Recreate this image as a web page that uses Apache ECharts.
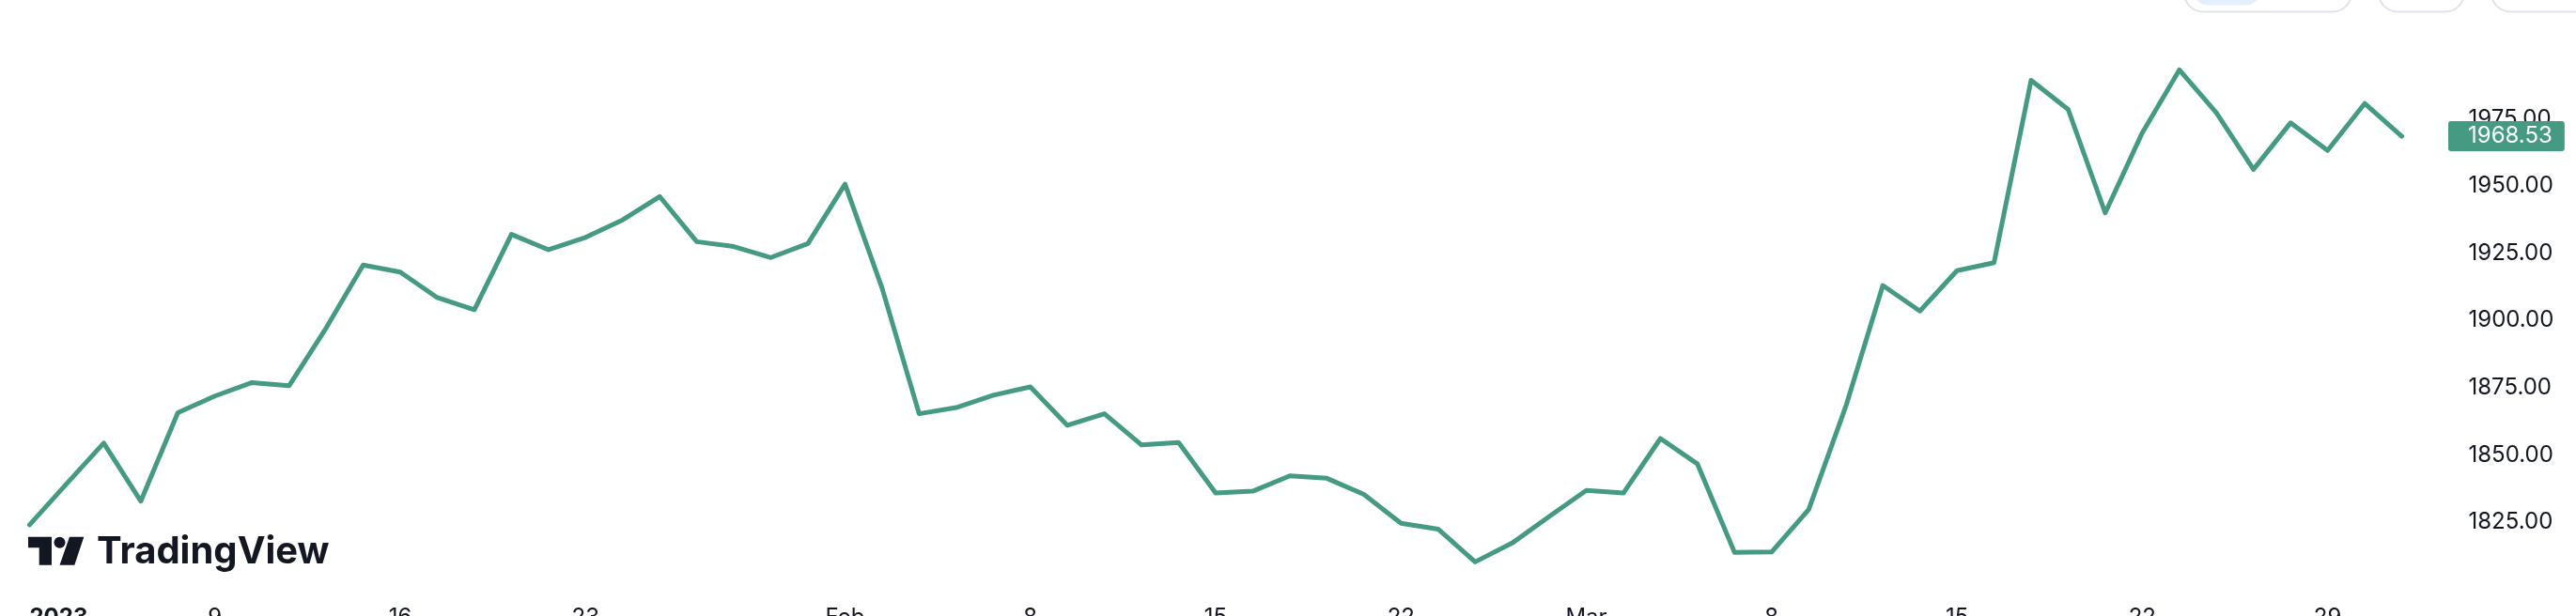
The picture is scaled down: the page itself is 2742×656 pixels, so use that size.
<!DOCTYPE html>
<html>
<head>
<meta charset="utf-8">
<script src="https://cdn.jsdelivr.net/npm/echarts@6/dist/echarts.min.js"></script>
<style>
html,body{margin:0;padding:0;background:#ffffff;}
#chart{width:2742px;height:656px;}
</style>
</head>
<body>
<div id="chart"></div>
<script>
// ---- Data (XAUUSD daily close, Dec 30 2022 – Mar 31 2023) ----
const dates = [
  '2022-12-30',
  '2023-01-03','2023-01-04','2023-01-05','2023-01-06','2023-01-09','2023-01-10','2023-01-11','2023-01-12','2023-01-13',
  '2023-01-16','2023-01-17','2023-01-18','2023-01-19','2023-01-20','2023-01-23','2023-01-24','2023-01-25','2023-01-26',
  '2023-01-27','2023-01-30','2023-01-31',
  '2023-02-01','2023-02-02','2023-02-03','2023-02-06','2023-02-07','2023-02-08','2023-02-09','2023-02-10','2023-02-13',
  '2023-02-14','2023-02-15','2023-02-16','2023-02-17','2023-02-20','2023-02-21','2023-02-22','2023-02-23','2023-02-24',
  '2023-02-27','2023-02-28',
  '2023-03-01','2023-03-02','2023-03-03','2023-03-06','2023-03-07','2023-03-08','2023-03-09','2023-03-10','2023-03-13',
  '2023-03-14','2023-03-15','2023-03-16','2023-03-17','2023-03-20','2023-03-21','2023-03-22','2023-03-23','2023-03-24',
  '2023-03-27','2023-03-28','2023-03-29','2023-03-30','2023-03-31'
];
const closes = [
  1824.0, 1839.3, 1854.4, 1832.8, 1865.7, 1871.9, 1876.9, 1875.7, 1897.2, 1920.6,
  1918.0, 1908.5, 1904.0, 1932.0, 1926.3, 1930.9, 1937.4, 1946.1, 1929.3, 1927.5,
  1923.4, 1928.6, 1950.7, 1912.0, 1865.3, 1867.6, 1872.2, 1875.3, 1861.0, 1865.3,
  1853.7, 1854.6, 1835.8, 1836.5, 1842.2, 1841.3, 1835.3, 1824.6, 1822.4, 1810.2,
  1817.2, 1827.1, 1836.8, 1835.8, 1856.1, 1846.6, 1813.7, 1813.9, 1829.7, 1868.0,
  1913.0, 1903.5, 1918.5, 1921.5, 1989.3, 1978.5, 1940.0, 1969.8, 1993.2, 1977.2,
  1956.2, 1973.5, 1963.2, 1980.7, 1968.53
];
// x-axis tick labels
const tickDates = ['2022-12-30','2023-01-09','2023-01-16','2023-01-23','2023-02-01','2023-02-08','2023-02-15',
                   '2023-02-22','2023-03-01','2023-03-08','2023-03-15','2023-03-22','2023-03-29'];
const tickTexts = ['2023','9','16','23','Feb','8','15','22','Mar','8','15','22','29'];
const boldTicks = ['2023'];
// y-axis tick labels shown
const yLabelMin = 1825;
const yLabelMax = 1975;
const lastPriceText = '1968.53';

const LINE = '#459a84';
const TEXT = '#131722';
const FONT = 'Inter';

const chart = echarts.init(document.getElementById('chart'), null, {renderer: 'canvas'});

chart.setOption({
  animation: false,
  backgroundColor: '#ffffff',
  grid: { left: 31.5, right: 185.5, top: 12, bottom: 28.4, containLabel: false, outerBoundsMode: 'none' },
  xAxis: {
    type: 'category',
    data: dates,
    boundaryGap: false,
    axisLine: { show: false },
    axisTick: { show: false },
    splitLine: { show: false },
    axisLabel: {
      interval: (idx, val) => tickDates.indexOf(val) >= 0,
      formatter: (val) => {
        const t = tickTexts[tickDates.indexOf(val)];
        return boldTicks.indexOf(t) >= 0 ? '{b|' + t + '}' : t;
      },
      alignMinLabel: 'left',
      hideOverlap: false,
      margin: 18,
      color: TEXT,
      fontFamily: FONT,
      fontSize: 24,
      rich: { b: { fontWeight: 700, fontFamily: FONT, fontSize: 24, color: TEXT } }
    }
  },
  yAxis: {
    type: 'value',
    position: 'right',
    min: 1800,
    max: 2015,
    interval: 25,
    axisLine: { show: false },
    axisTick: { show: false },
    splitLine: { show: false },
    axisLabel: {
      showMinLabel: true,
      showMaxLabel: true,
      formatter: (v) => (v >= yLabelMin && v <= yLabelMax) ? v.toFixed(2) : '',
      margin: 71,
      color: TEXT,
      fontFamily: FONT,
      fontSize: 24
    }
  },
  series: [{
    type: 'line',
    data: closes,
    showSymbol: false,
    symbol: 'none',
    lineStyle: { color: LINE, width: 5, join: 'round', cap: 'round' },
    itemStyle: { color: LINE },
    markLine: {
      silent: true,
      symbol: ['none', 'none'],
      animation: false,
      lineStyle: { color: 'rgba(0,0,0,0)', width: 0, type: 'solid' },
      label: {
        show: true,
        position: 'end',
        distance: 49.5,
        formatter: lastPriceText,
        backgroundColor: LINE,
        color: '#ffffff',
        fontFamily: FONT,
        fontSize: 24,
        lineHeight: 24,
        padding: [4, 13, 4, 21],
        borderRadius: 3
      },
      emphasis: { disabled: true },
      data: [{ yAxis: closes[closes.length - 1] }]
    },
    z: 3
  }],
  graphic: [
    // top-right toolbar buttons (partially out of view)
    { type: 'rect', shape: { x: 2325, y: -40, width: 178, height: 52.5, r: 20 },
      style: { fill: '#ffffff', stroke: '#e0e3eb', lineWidth: 2 }, z: 10 },
    { type: 'rect', shape: { x: 2333, y: -40, width: 75, height: 45.5, r: 18 },
      style: { fill: '#e3effd' }, z: 11 },
    { type: 'rect', shape: { x: 2532, y: -40, width: 91, height: 52.5, r: 20 },
      style: { fill: '#ffffff', stroke: '#e0e3eb', lineWidth: 2 }, z: 10 },
    { type: 'rect', shape: { x: 2652, y: -40, width: 130, height: 52.5, r: 20 },
      style: { fill: '#ffffff', stroke: '#e0e3eb', lineWidth: 2 }, z: 10 },
    // TradingView logo
    { type: 'polygon', shape: { points: [[30,571.7],[55,571.7],[55,601.7],[41.7,601.7],[41.7,583.3],[30,583.3]] },
      style: { fill: TEXT }, z: 10 },
    { type: 'circle', shape: { cx: 63.5, cy: 577.7, r: 6 }, style: { fill: TEXT }, z: 10 },
    { type: 'polygon', shape: { points: [[74,571.7],[89.3,571.7],[79.3,601.7],[63.5,601.7]] },
      style: { fill: TEXT }, z: 10 },
    { type: 'text', x: 103, y: 587.5,
      style: { text: 'TradingView', fill: TEXT, font: '700 40px Inter', verticalAlign: 'middle', align: 'left' }, z: 10 }
  ]
});
</script>
</body>
</html>
